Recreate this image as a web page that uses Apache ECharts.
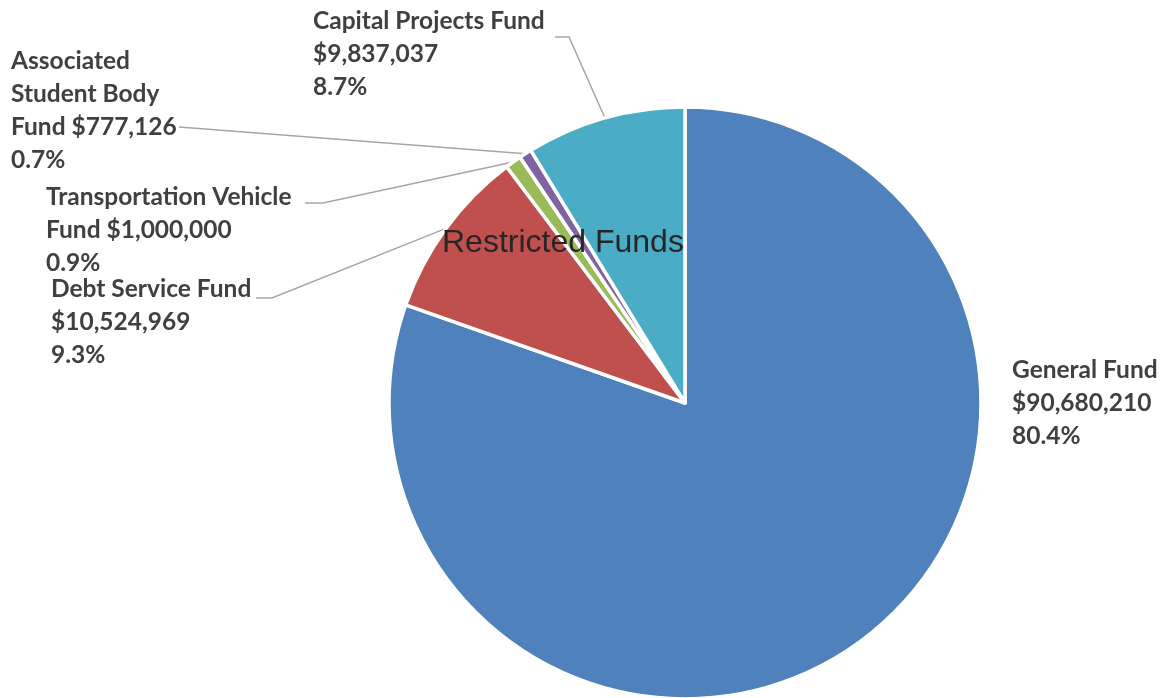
<!DOCTYPE html>
<html>
<head>
<meta charset="utf-8">
<script src="https://cdn.jsdelivr.net/npm/echarts@6/dist/echarts.min.js"></script>
<style>html,body{margin:0;padding:0;background:#fff}#c{width:1165px;height:698px}</style>
</head>
<body>
<div id="c"></div>
<script>
// ---- data ----
const categories = ["General Fund", "Debt Service Fund", "Transportation Vehicle Fund", "Associated Student Body Fund", "Capital Projects Fund"];
const values = [90680210, 10524969, 1000000, 777126, 9837037];
const labelNames = ["General Fund", "Debt Service Fund", "Transportation Vehicle\nFund", "Associated\nStudent Body\nFund", "Capital Projects Fund"];
const valueSeparators = ["\n", "\n", " ", " ", "\n"];
const colors = ["#4F81BD", "#C0504D", "#9BBB59", "#8064A2", "#4BACC6"];
const titleText = "Restricted Funds";

// ---- label placement (layout only) ----
const labelPos = [
  { x: 1012, y: 354, line: null },
  { x: 51, y: 273, line: [[272, 298], [256, 298]] },
  { x: 46, y: 181, line: [[323, 203], [305, 203]] },
  { x: 11, y: 45, line: [[179, 127], [179, 127]] },
  { x: 313, y: 5, line: [[569, 37], [555, 37]] }
];

function fmt(n) { return '$' + n.toString().replace(/\B(?=(\d{3})+(?!\d))/g, ','); }

const chart = echarts.init(document.getElementById('c'), null, { renderer: 'canvas' });
chart.setOption({
  backgroundColor: '#ffffff',
  animation: false,
  title: {
    text: titleText, left: 437, top: 222,
    textStyle: { fontFamily: 'Liberation Sans, Arial, sans-serif', fontWeight: 'normal', fontSize: 32, color: '#262626' }
  },
  series: [{
    type: 'pie',
    center: [685, 403],
    radius: [0, 296],
    startAngle: 90,
    clockwise: true,
    avoidLabelOverlap: false,
    percentPrecision: 1,
    itemStyle: { borderColor: '#ffffff', borderWidth: 3.5 },
    label: {
      show: true, position: 'outside', alignTo: 'none',
      fontFamily: 'Lato, sans-serif', fontWeight: 'bold', fontSize: 24.5, lineHeight: 33, color: '#404040',
      formatter: function (p) {
        return labelNames[p.dataIndex] + valueSeparators[p.dataIndex] + fmt(p.value) + '\n' + p.percent.toFixed(1) + '%';
      }
    },
    labelLine: { show: true, length: 10, length2: 10, lineStyle: { color: '#A6A6A6', width: 1.5 } },
    labelLayout: function (params) {
      const lp = labelPos[params.dataIndex];
      const out = { x: lp.x, y: lp.y, align: 'left', verticalAlign: 'top' };
      if (lp.line && params.labelLinePoints) {
        out.labelLinePoints = [params.labelLinePoints[0], lp.line[0], lp.line[1]];
      } else {
        out.labelLinePoints = [[0, 0], [0, 0], [0, 0]];
      }
      return out;
    },
    data: categories.map((c, i) => ({ name: c, value: values[i], itemStyle: { color: colors[i] },
      labelLine: { show: i !== 0 } }))
  }]
});
</script>
</body>
</html>
